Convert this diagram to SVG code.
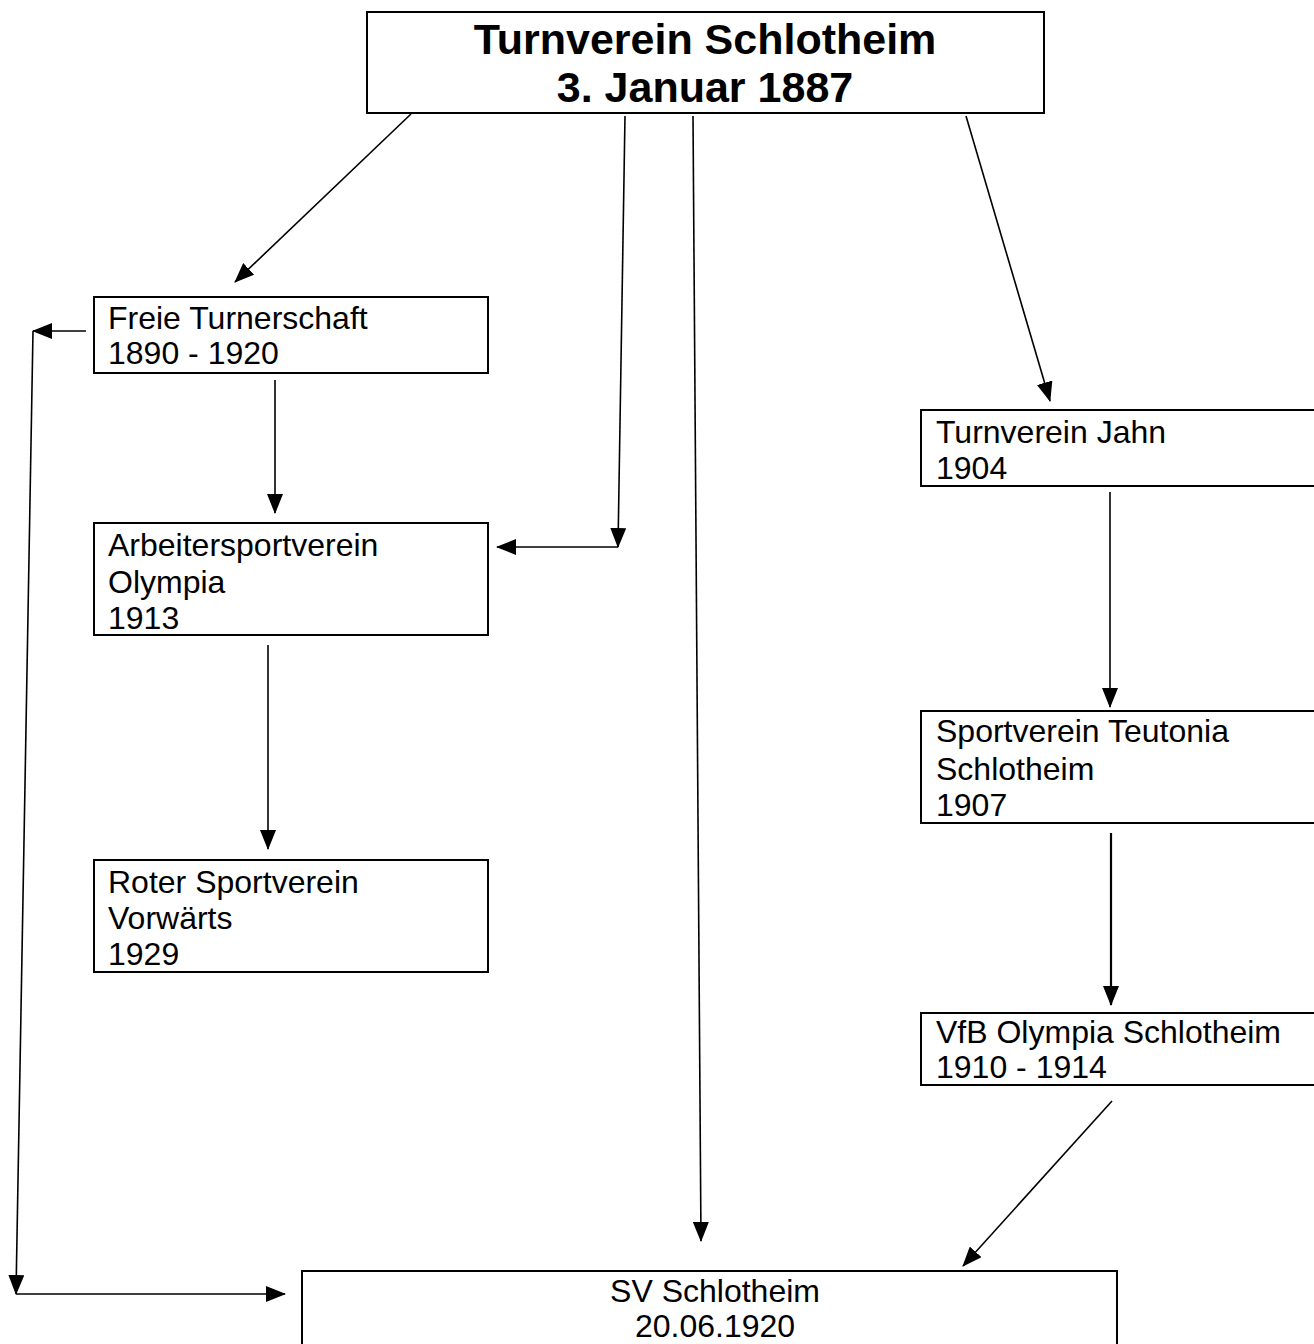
<svg xmlns="http://www.w3.org/2000/svg" width="1314" height="1344" viewBox="0 0 1314 1344">
<style>
.box{fill:#fff;stroke:#000;stroke-width:2}
.t{font-family:"Liberation Sans",Arial,sans-serif;font-size:32px;fill:#000}
.title{font-family:"Liberation Sans",Arial,sans-serif;font-size:43px;font-weight:bold;fill:#000;text-anchor:middle}
.c{fill:none;stroke:#000;stroke-width:1.6}
</style>
<defs>
<marker id="ah" markerUnits="userSpaceOnUse" markerWidth="20" markerHeight="16" viewBox="0 0 20 16" refX="19" refY="8" orient="auto">
<path d="M0,0 L20,8 L0,16 Z" fill="#000"/>
</marker>
</defs>
<rect width="1314" height="1344" fill="#fff"/>
<g id="connectors">
<line class="c" x1="411" y1="114" x2="235" y2="282" marker-end="url(#ah)"/>
<line class="c" x1="625" y1="116" x2="618" y2="547" marker-end="url(#ah)"/>
<line class="c" x1="618" y1="547" x2="497" y2="547" marker-end="url(#ah)"/>
<line class="c" x1="693" y1="116" x2="701" y2="1241" marker-end="url(#ah)"/>
<line class="c" x1="966" y1="116" x2="1050" y2="401" marker-end="url(#ah)"/>
<line class="c" x1="275" y1="380" x2="275" y2="513" marker-end="url(#ah)"/>
<line class="c" x1="268" y1="645" x2="268" y2="849" marker-end="url(#ah)"/>
<line class="c" x1="1110" y1="492" x2="1110" y2="707" marker-end="url(#ah)"/>
<line class="c" x1="1111" y1="833" x2="1111" y2="1005" style="stroke-width:2.2" marker-end="url(#ah)"/>
<line class="c" x1="1112" y1="1101" x2="963" y2="1266" marker-end="url(#ah)"/>
<line class="c" x1="86" y1="331" x2="33" y2="331" marker-end="url(#ah)"/>
<line class="c" x1="33" y1="331" x2="16" y2="1294" marker-end="url(#ah)"/>
<line class="c" x1="16" y1="1294" x2="285" y2="1294" marker-end="url(#ah)"/>
</g>
<g id="node-top">
<rect class="box" x="367" y="12" width="677" height="101"/>
<text class="title" x="705" y="54">Turnverein Schlotheim</text>
<text class="title" x="705" y="102">3. Januar 1887</text>
</g>
<g id="node-freie">
<rect class="box" x="94" y="297" width="394" height="76"/>
<text class="t" x="108" y="329">Freie Turnerschaft</text>
<text class="t" x="108" y="364">1890 - 1920</text>
</g>
<g id="node-arbeiter">
<rect class="box" x="94" y="523" width="394" height="112"/>
<text class="t" x="108" y="556">Arbeitersportverein</text>
<text class="t" x="108" y="593">Olympia</text>
<text class="t" x="108" y="629">1913</text>
</g>
<g id="node-roter">
<rect class="box" x="94" y="860" width="394" height="112"/>
<text class="t" x="108" y="893">Roter Sportverein</text>
<text class="t" x="108" y="929">Vorwärts</text>
<text class="t" x="108" y="965">1929</text>
</g>
<g id="node-jahn">
<rect class="box" x="921" y="410" width="400" height="76"/>
<text class="t" x="936" y="443">Turnverein Jahn</text>
<text class="t" x="936" y="479">1904</text>
</g>
<g id="node-teutonia">
<rect class="box" x="921" y="711" width="400" height="112"/>
<text class="t" x="936" y="742">Sportverein Teutonia</text>
<text class="t" x="936" y="780">Schlotheim</text>
<text class="t" x="936" y="816">1907</text>
</g>
<g id="node-vfb">
<rect class="box" x="921" y="1013" width="400" height="72"/>
<text class="t" x="936" y="1043">VfB Olympia Schlotheim</text>
<text class="t" x="936" y="1078">1910 - 1914</text>
</g>
<g id="node-sv">
<rect class="box" x="302" y="1271" width="815" height="90"/>
<text class="t" x="715" y="1302" text-anchor="middle">SV Schlotheim</text>
<text class="t" x="715" y="1337" text-anchor="middle">20.06.1920</text>
</g>
</svg>
